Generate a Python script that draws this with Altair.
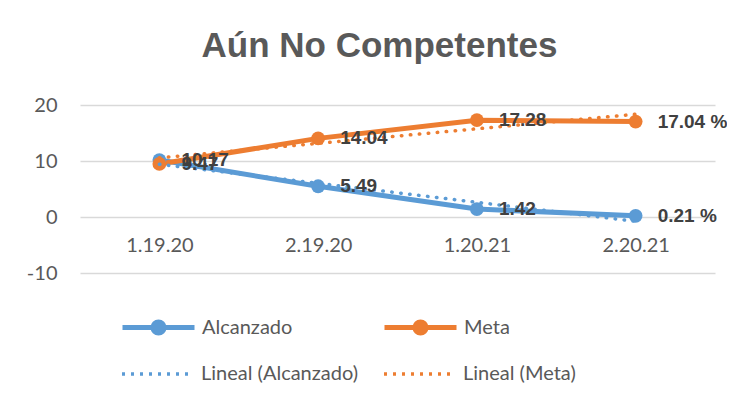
import altair as alt
import pandas as pd

categories = ["1.19.20", "2.19.20", "1.20.21", "2.20.21"]
alcanzado = [10.17, 5.49, 1.42, 0.21]
meta = [9.47, 14.04, 17.28, 17.04]
series_names = ["Alcanzado", "Meta"]
trend_names = ["Lineal (Alcanzado)", "Lineal (Meta)"]
colors = ["#5B9BD5", "#ED7D31"]
y_ticks = [-10, 0, 10, 20]
title_text = "Aún No Competentes"

rows = []
for name, tname, vals in zip(series_names, trend_names, [alcanzado, meta]):
    for i, (c, v) in enumerate(zip(categories, vals)):
        rows.append({"serie": name, "tendencia": tname, "cat": c, "idx": i + 1, "valor": v})
df = pd.DataFrame(rows)

cat_js = "[" + ",".join("'%s'" % c for c in categories) + "]"
n_last = len(categories)

solid_path = ("M-3.6,0H3.6"
              "M0.55,0A0.55,0.55 0 1 1 -0.55,0A0.55,0.55 0 1 1 0.55,0"
              "M0.3,0A0.3,0.3 0 1 1 -0.3,0A0.3,0.3 0 1 1 0.3,0")
dot_path = "M-3.6,0H3.6"

x_enc = alt.X(
    "idx:Q",
    scale=alt.Scale(domain=[0.5, len(categories) + 0.5], nice=False, zero=False),
    axis=alt.Axis(
        values=list(range(1, len(categories) + 1)),
        labelExpr=cat_js + "[datum.value - 1]",
        grid=False, domain=False, ticks=False, title=None,
        offset=-56, labelPadding=18,
        labelFont="Lato", labelFontSize=20, labelColor="#595959",
    ),
)
y_enc = alt.Y(
    "valor:Q",
    scale=alt.Scale(domain=[-10, 20], nice=False),
    axis=alt.Axis(
        values=y_ticks, grid=True, gridColor="#D9D9D9", gridWidth=1.3,
        domain=False, ticks=False, title=None, labelPadding=23,
        labelExpr="'' + datum.value",
        labelFont="Lato", labelFontSize=20, labelColor="#595959",
    ),
)

common_legend = dict(
    title=None, orient="none", direction="horizontal", columns=2,
    symbolSize=400, labelFont="Lato", labelFontSize=20,
    labelColor="#595959", labelLimit=400, symbolOpacity=1, labelOffset=31,
)
legend_a = alt.Legend(
    legendX=66, legendY=210, columnPadding=81,
    symbolType=solid_path, symbolStrokeWidth=5, **common_legend,
)
legend_b = alt.Legend(
    legendX=66, legendY=257, columnPadding=18,
    symbolType=dot_path, symbolStrokeWidth=3.5, symbolDash=[3, 6],
    **common_legend,
)

color_scale = alt.Scale(domain=series_names, range=colors)
stroke_scale = alt.Scale(domain=trend_names, range=colors)

base = alt.Chart(df)

lines = base.mark_line(
    strokeWidth=5, strokeCap="round", strokeJoin="round"
).encode(x=x_enc, y=y_enc, color=alt.Color("serie:N", scale=color_scale, legend=legend_a))

points = base.mark_point(filled=True, size=190, opacity=1).encode(
    x=x_enc, y=y_enc, color=alt.Color("serie:N", scale=color_scale, legend=legend_a)
)

trend = base.transform_regression(
    "idx", "valor", groupby=["tendencia"], extent=[1, len(categories)]
).mark_line(strokeWidth=3.5, strokeDash=[0.5, 8.5], strokeCap="round").encode(
    x=x_enc, y=y_enc, stroke=alt.Stroke("tendencia:N", scale=stroke_scale, legend=legend_b)
)

labels = base.transform_calculate(
    etiqueta="datum.idx == %d ? format(datum.valor, '.2f') + ' %%' : format(datum.valor, '.2f')" % n_last
).mark_text(
    align="left", baseline="middle", dx=22, font="Liberation Sans",
    fontWeight="bold", fontSize=19, color="#404040",
).encode(x=x_enc, y=y_enc, text="etiqueta:N")

chart = alt.layer(lines, points, trend, labels).properties(
    width=635, height=168,
    title=alt.TitleParams(
        title_text, font="Liberation Sans", fontSize=35, fontWeight="bold",
        color="#595959", anchor="middle", dx=-18, offset=31,
    ),
    autosize=alt.AutoSizeParams(type="none"),
    padding={"left": 72, "top": 97, "right": 12, "bottom": 120},
).configure_view(stroke=None)

chart.save("out.html", embed_options={"renderer": "svg", "actions": False})
